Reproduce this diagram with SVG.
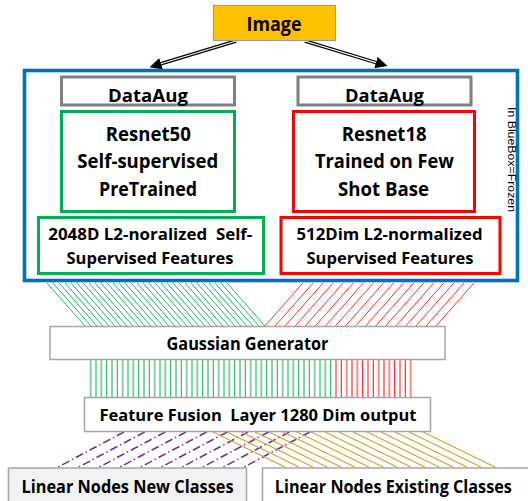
<svg xmlns="http://www.w3.org/2000/svg" width="528" height="501" viewBox="0 0 528 501">
<style>
text{font-family:"Open Sans","Liberation Sans",sans-serif;font-weight:bold;fill:#000;text-anchor:middle}
.gray{fill:#fff;stroke:#7f7f7f;stroke-width:3}
.grn{fill:#fff;stroke:#00B050;stroke-width:3}
.red{fill:#fff;stroke:#FF0000;stroke-width:3}
.thin{fill:#fff;stroke:#a6a6a6;stroke-width:1.5}
.f19{font-size:19px}
.f17{font-size:17px}
.f16{font-size:16px}
</style>
<defs>
<marker id="ah" viewBox="0 0 12 12" refX="1" refY="6" markerWidth="12" markerHeight="12" markerUnits="userSpaceOnUse" orient="auto">
<path d="M0,0 L12,6 L0,12 z" fill="#000"/>
</marker>
</defs>

<g id="connectors">
<g id="arrows">
<line x1="236" y1="41" x2="160.1" y2="64" stroke="#000" stroke-width="3.6" marker-end="url(#ah)"/>
<line x1="236" y1="41" x2="161" y2="63.7" stroke="#fff" stroke-width="1.2"/>
<line x1="305" y1="41" x2="376.9" y2="62.9" stroke="#000" stroke-width="3.6" marker-end="url(#ah)"/>
<line x1="305" y1="41" x2="376" y2="62.6" stroke="#fff" stroke-width="1.2"/>
</g>
<path id="green-diag" fill="none" stroke="#22b565" stroke-width="1" d="M47 283l38 43M53 283l38 43M59 283l38 43M65 283l38 43M71 283l38 43M77 283l38 43M83 283l38 43M89 283l38 43M95 283l38 43M101 283l38 43M107 283l38 43M113 283l38 43M119 283l38 43M125 283l38 43M131 283l38 43M137 283l38 43M143 283l38 43M149 283l38 43M155 283l38 43M161 283l38 43M167 283l38 43M173 283l38 43M179 283l38 43M185 283l38 43M191 283l38 43M197 283l38 43M203 283l38 43M209 283l38 43M215 283l38 43M221 283l38 43M227 283l38 43"/>
<path id="red-diag" fill="none" stroke="#ff2a2a" stroke-width="1" d="M303 283l-38 43M313.1 283l-38 43M323.1 283l-38 43M333.2 283l-38 43M343.2 283l-38 43M353.3 283l-38 43M363.4 283l-38 43M373.4 283l-38 43M383.5 283l-38 43M393.5 283l-38 43M403.6 283l-38 43M413.7 283l-38 43M423.7 283l-38 43M433.8 283l-38 43M443.8 283l-38 43M453.9 283l-38 43M464 283l-38 43M474 283l-38 43"/>
<path id="green-vert-light" fill="none" stroke="#7fd3a3" stroke-width="2" d="M90.7 360V397M101.3 360V397M112 360V397M122.7 360V397M133.3 360V397M144 360V397M154.7 360V397M165.3 360V397M176 360V397M186.7 360V397M197.3 360V397M208 360V397M218.7 360V397M229.3 360V397M240 360V397M250.7 360V397M261.3 360V397M272 360V397M282.7 360V397M293.3 360V397M304 360V397M314.7 360V397M325.3 360V397"/>
<path id="green-vert-dark" fill="none" stroke="#00B050" stroke-width="1" d="M96 360V397M106.7 360V397M117.3 360V397M128 360V397M138.7 360V397M149.3 360V397M160 360V397M170.7 360V397M181.3 360V397M192 360V397M202.7 360V397M213.3 360V397M224 360V397M234.7 360V397M245.3 360V397M256 360V397M266.7 360V397M277.3 360V397M288 360V397M298.7 360V397M309.3 360V397M320 360V397M330.7 360V397"/>
<path id="red-vert-light" fill="none" stroke="#ff8a8a" stroke-width="2" d="M336 360V397M346.7 360V397M357.3 360V397M368 360V397M378.7 360V397M389.3 360V397M400 360V397M410.7 360V397"/>
<path id="red-vert-dark" fill="none" stroke="#ff0000" stroke-width="1" d="M341.3 360V397M352 360V397M362.7 360V397M373.3 360V397M384 360V397M394.7 360V397M405.3 360V397"/>
<path id="purple-dash" fill="none" stroke="#7030A0" stroke-width="1.5" stroke-dasharray="8 3 1.5 3" d="M124 432l-66 35M144.7 432l-66 35M165.3 432l-66 35M186 432l-66 35M206.7 432l-66 35M227.3 432l-66 35M248 432l-66 35M268.7 432l-66 35M289.3 432l-66 35M310 432l-66 35"/>
<path id="gold-lines" fill="none" stroke="#CFA22E" stroke-width="1.2" d="M213 432l72 35M227 432l72 35M241 432l72 35M255 432l72 35M269 432l72 35M283 432l72 35M297 432l72 35M311 432l72 35M325 432l72 35M339 432l72 35M353 432l72 35M367 432l72 35M381 432l72 35M395 432l72 35M409 432l72 35M423 432l72 35"/>
</g>

<g id="image">
<rect x="213.5" y="5.5" width="122" height="35" fill="#FFC000" stroke="#9a9a9a" stroke-width="1"/>
<text x="274" y="31" font-size="19.5" textLength="55" lengthAdjust="spacingAndGlyphs">Image</text>
</g>

<g id="frozen-box">
<rect x="24.5" y="70.5" width="493" height="210" fill="none" stroke="#0070C0" stroke-width="3.6"/>
<text transform="translate(507.5,159.5) rotate(90)" x="0" y="0" font-size="11.5" fill="#000" textLength="105" lengthAdjust="spacingAndGlyphs" style="font-weight:normal;font-family:'Liberation Sans',sans-serif">In BlueBox=Frozen</text>
</g>

<g id="dataaug-left">
<rect class="gray" x="61.5" y="77" width="173" height="28"/>
<text class="f17" x="148" y="101.5" textLength="80" lengthAdjust="spacingAndGlyphs">DataAug</text>
</g>
<g id="dataaug-right">
<rect class="gray" x="298" y="77" width="173" height="28"/>
<text class="f17" x="384.5" y="101.5" textLength="79" lengthAdjust="spacingAndGlyphs">DataAug</text>
</g>

<g id="resnet50">
<rect class="grn" x="61.5" y="111.5" width="173" height="100"/>
<text class="f19" x="148.3" y="141" textLength="85" lengthAdjust="spacingAndGlyphs">Resnet50</text>
<text class="f19" x="147.8" y="168" textLength="141" lengthAdjust="spacingAndGlyphs">Self-supervised</text>
<text class="f19" x="148" y="195.5" textLength="98" lengthAdjust="spacingAndGlyphs">PreTrained</text>
</g>

<g id="resnet18">
<rect class="red" x="293.5" y="111.5" width="181" height="100"/>
<text class="f19" x="384.2" y="141" textLength="85" lengthAdjust="spacingAndGlyphs">Resnet18</text>
<text class="f19" x="384.5" y="168" textLength="139" lengthAdjust="spacingAndGlyphs">Trained on Few</text>
<text class="f19" x="383.5" y="195.5" textLength="91" lengthAdjust="spacingAndGlyphs">Shot Base</text>
</g>

<g id="ssl-features">
<rect class="grn" x="38.5" y="217.5" width="225" height="56"/>
<text class="f16" x="150.3" y="240" textLength="204" lengthAdjust="spacingAndGlyphs" xml:space="preserve">2048D L2-noralized  Self-</text>
<text class="f16" x="150" y="263.5" textLength="167" lengthAdjust="spacingAndGlyphs">Supervised Features</text>
</g>

<g id="sup-features">
<rect class="red" x="281" y="217.5" width="219" height="56"/>
<text class="f16" x="389.5" y="240" textLength="186" lengthAdjust="spacingAndGlyphs">512Dim L2-normalized</text>
<text class="f16" x="390" y="263.5" textLength="167" lengthAdjust="spacingAndGlyphs">Supervised Features</text>
</g>

<g id="gaussian">
<rect class="thin" x="50" y="326.5" width="395" height="33"/>
<text class="f17" x="247.5" y="350" textLength="162" lengthAdjust="spacingAndGlyphs">Gaussian Generator</text>
</g>

<g id="fusion">
<rect class="thin" x="84.5" y="397.5" width="346" height="34"/>
<text class="f16" x="258" y="420.5" textLength="317" lengthAdjust="spacingAndGlyphs" xml:space="preserve">Feature Fusion  Layer 1280 Dim output</text>
</g>

<g id="new-classes">
<rect x="8.5" y="468" width="238" height="40" fill="#F2F2F2" stroke="#a6a6a6" stroke-width="1.5"/>
<text x="127.5" y="492.5" font-size="17.5" textLength="212" lengthAdjust="spacingAndGlyphs">Linear Nodes New Classes</text>
</g>

<g id="existing-classes">
<rect x="262.5" y="468" width="280" height="40" fill="#fff" stroke="#a6a6a6" stroke-width="1.5"/>
<text x="393.3" y="492.5" font-size="17.5" textLength="237" lengthAdjust="spacingAndGlyphs">Linear Nodes Existing Classes</text>
</g>
</svg>
